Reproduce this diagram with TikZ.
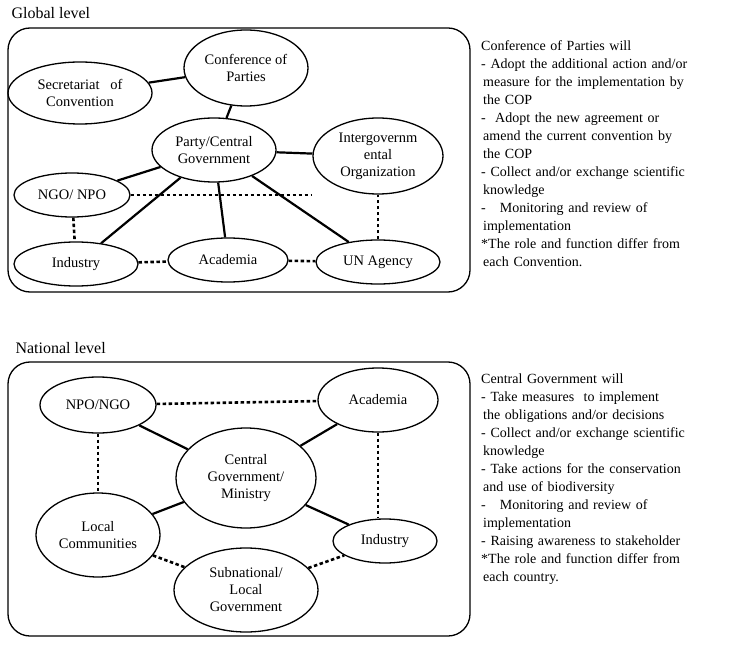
\documentclass[tikz,border=0pt]{standalone}
\usepackage{fontspec}
\setmainfont{Liberation Serif}
\usetikzlibrary{shapes.geometric}
\newcommand\jl[1]{\makebox[255pt][s]{#1}}
\begin{document}
\begin{tikzpicture}[x=1pt,y=-1pt,
  el/.style={draw,line width=1.3pt,ellipse,inner sep=0pt,align=center,font=\fontsize{14.5}{17}\selectfont},
  box/.style={draw,line width=1.3pt,rounded corners=22pt},
  sl/.style={line width=2.2pt},
  dl/.style={line width=2.6pt,dash pattern=on 3.5pt off 2.5pt},
  ttl/.style={anchor=west,font=\fontsize{16}{18}\selectfont},
  side/.style={anchor=north west,align=left,text width=258pt,inner sep=0pt,font=\fontsize{14}{18}\selectfont}]
\useasboundingbox (0,0) rectangle (741,668);
\node[ttl] (gt) at (8,13) {Global level};
\draw[box] (8,28) rectangle (470,292);
\node[el,minimum width=124pt,minimum height=76pt] (cop) at (246,68) {Conference of\\Parties};
\node[el,minimum width=144pt,minimum height=62pt] (sec) at (80,93) {Secretariat\ \ \ of\\Convention};
\node[el,minimum width=124pt,minimum height=64pt] (pty) at (214,150) {Party/Central\\Government};
\node[el,minimum width=130pt,minimum height=76pt] (igo) at (378,156) {Intergovernm\\ental\\Organization};
\node[el,minimum width=116pt,minimum height=44pt] (ngo) at (72,195) {NGO/ NPO};
\node[el,minimum width=124pt,minimum height=44pt] (ind) at (76,264) {Industry};
\node[el,minimum width=120pt,minimum height=44pt] (aca) at (228,260) {Academia};
\node[el,minimum width=124pt,minimum height=44pt] (una) at (378,262) {UN Agency};
\draw[sl] (cop) -- (sec);
\draw[sl] (cop) -- (pty);
\draw[sl] (pty) -- (ngo);
\draw[sl] (pty) -- (ind);
\draw[sl] (pty) -- (aca);
\draw[sl] (pty) -- (una);
\draw[sl] (pty) -- (igo);
\draw[dl] (ngo) -- (ngo -| igo.west);
\draw[dl] (ngo) -- (ind);
\draw[dl] (ind) -- (aca);
\draw[dl] (aca) -- (una);
\draw[dl] (una) -- (igo);
\node[side] (gtx) at (481,40) {Conference of Parties will\\
\jl{- Adopt the additional action and/or}\\
\jl{\hspace*{2pt}measure for the implementation by}\\
\hspace*{2pt}the COP\\
\jl{-\ \ Adopt the new agreement or}\\
\jl{\hspace*{2pt}amend the current convention by}\\
\hspace*{2pt}the COP\\
\jl{- Collect and/or exchange scientific}\\
\hspace*{2pt}knowledge\\
\jl{-\quad Monitoring and review of}\\
\hspace*{2pt}implementation\\{}
\jl{*The role and function differ from}\\
\hspace*{2pt}each Convention.};
\node[ttl] (nt) at (12,348) {National level};
\draw[box] (8,362) rectangle (470,636);
\node[el,minimum width=116pt,minimum height=56pt] (npo) at (98,405) {NPO/NGO};
\node[el,minimum width=120pt,minimum height=64pt] (nac) at (378,400) {Academia};
\node[el,minimum width=140pt,minimum height=100pt] (cgm) at (246,478) {Central\\Government/\\Ministry};
\node[el,minimum width=124pt,minimum height=84pt] (loc) at (98,535) {Local\\Communities};
\node[el,minimum width=104pt,minimum height=44pt] (nin) at (385,541) {Industry};
\node[el,minimum width=144pt,minimum height=84pt] (sub) at (246,590) {Subnational/\\Local\\Government};
\draw[sl] (cgm) -- (npo);
\draw[sl] (cgm) -- (nac);
\draw[sl] (cgm) -- (loc);
\draw[sl] (cgm) -- (nin);
\draw[dl] (npo) -- (nac);
\draw[dl] (npo) -- (loc);
\draw[dl] (nac) -- (nac |- nin.north);
\draw[dl] (loc) -- (sub);
\draw[dl] (sub) -- (nin);
\node[side] (ntx) at (481,374) {Central Government will\\
\jl{- Take measures\ \ to implement}\\
\jl{\hspace*{2pt}the obligations and/or decisions}\\
\jl{- Collect and/or exchange scientific}\\
\hspace*{2pt}knowledge\\
\jl{- Take actions for the conservation}\\
\hspace*{2pt}and use of biodiversity\\
\jl{-\quad Monitoring and review of}\\
\hspace*{2pt}implementation\\
- Raising awareness to stakeholder\\{}
\jl{*The role and function differ from}\\
\hspace*{2pt}each country.};
\end{tikzpicture}
\end{document}
